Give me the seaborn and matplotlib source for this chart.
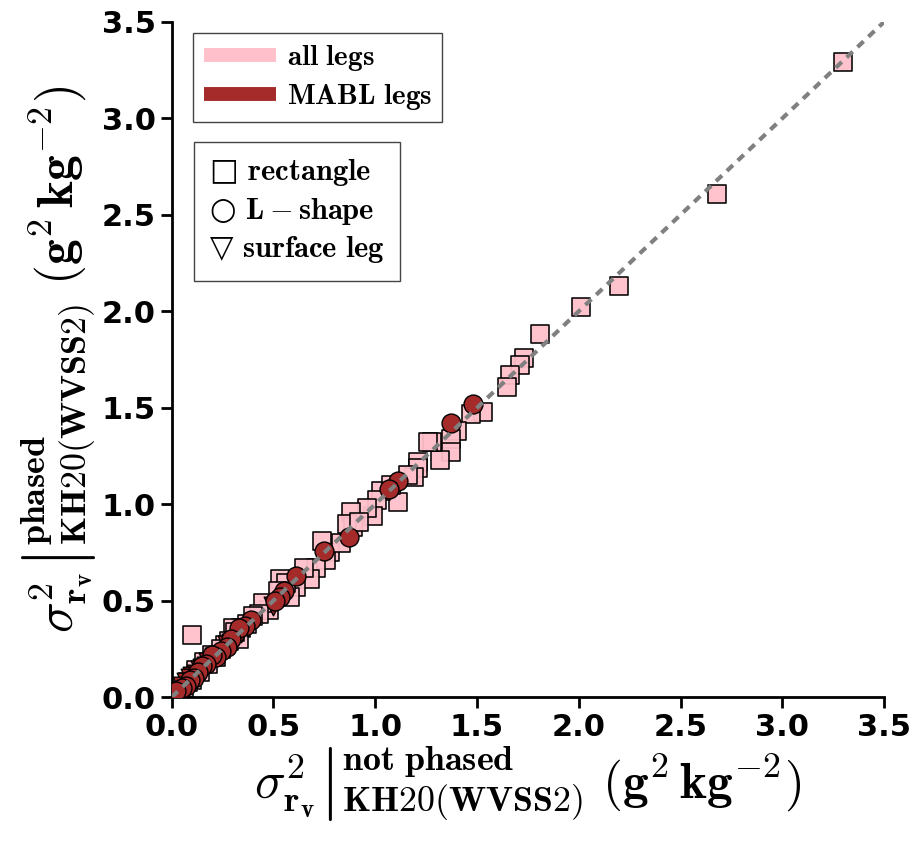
import matplotlib
matplotlib.use("Agg")
import matplotlib.pyplot as plt
import seaborn as sns
import pandas as pd
from matplotlib.lines import Line2D

# all legs, rectangle pattern (pink squares)
rect_x = [3.30, 2.68, 2.20, 2.01, 1.81, 1.73, 1.71, 1.66, 1.65, 1.53, 1.47, 1.40, 1.37, 1.37,
          1.32, 1.28, 1.26, 1.21, 1.21, 1.19, 1.16, 1.11, 1.03, 1.01, 0.99, 0.96, 0.88, 0.89,
          0.86, 0.78, 0.76, 0.74, 0.71, 0.68, 0.65, 0.61, 0.58, 0.53, 0.48, 0.45, 0.43, 0.40,
          0.37, 0.34, 0.30, 0.28, 0.26, 0.24, 0.22, 0.20, 0.18, 0.16, 0.14, 0.12, 0.10, 0.10,
          0.08, 0.06, 0.04, 0.03, 0.33, 0.31, 0.56, 0.52, 0.83, 0.92, 1.08]
rect_y = [3.29, 2.61, 2.13, 2.02, 1.88, 1.76, 1.72, 1.67, 1.61, 1.48, 1.47, 1.38, 1.34, 1.27,
          1.23, 1.32, 1.32, 1.22, 1.19, 1.14, 1.15, 1.01, 1.07, 1.02, 0.94, 0.98, 0.96, 0.88,
          0.90, 0.75, 0.71, 0.81, 0.67, 0.61, 0.67, 0.57, 0.52, 0.61, 0.45, 0.49, 0.43, 0.42,
          0.38, 0.36, 0.36, 0.29, 0.27, 0.25, 0.21, 0.22, 0.17, 0.18, 0.13, 0.14, 0.32, 0.09,
          0.08, 0.05, 0.05, 0.02, 0.30, 0.34, 0.59, 0.55, 0.80, 0.91, 1.10]

# MABL legs, L-shape pattern (brown circles)
lshape_x = [1.48, 1.37, 1.11, 1.07, 0.87, 0.75, 0.61, 0.55, 0.53, 0.51, 0.39, 0.36, 0.33,
            0.29, 0.27, 0.24, 0.22, 0.20, 0.17, 0.15, 0.13, 0.11, 0.09, 0.07, 0.05, 0.02]
lshape_y = [1.52, 1.42, 1.12, 1.08, 0.83, 0.76, 0.63, 0.55, 0.52, 0.50, 0.40, 0.37, 0.36,
            0.30, 0.26, 0.24, 0.21, 0.22, 0.17, 0.16, 0.13, 0.10, 0.09, 0.06, 0.05, 0.03]

# MABL legs, surface legs (brown triangles)
surf_x = [0.50, 0.34, 0.29, 0.27, 0.24, 0.21, 0.20, 0.18, 0.17, 0.15, 0.14, 0.12, 0.11,
          0.10, 0.09, 0.07, 0.06, 0.05, 0.04, 0.03, 0.02]
surf_y = [0.47, 0.33, 0.28, 0.27, 0.22, 0.21, 0.19, 0.18, 0.16, 0.15, 0.14, 0.12, 0.10,
          0.11, 0.10, 0.08, 0.05, 0.06, 0.03, 0.02, 0.01]

PINK = "#ffc0cb"
BROWN = "#a52a2a"

sns.set_style("ticks")
plt.rcParams["mathtext.fontset"] = "cm"
plt.rcParams["font.family"] = ["DejaVu Sans"]
plt.rcParams["text.color"] = "black"
plt.rcParams["axes.labelcolor"] = "black"

fig = plt.figure(figsize=(9.18, 8.43), dpi=100)
ax = fig.add_axes([0.187, 0.173, 0.776, 0.801])

df_rect = pd.DataFrame({"x": rect_x, "y": rect_y})
df_l = pd.DataFrame({"x": lshape_x, "y": lshape_y})
df_s = pd.DataFrame({"x": surf_x, "y": surf_y})

sns.scatterplot(data=df_rect, x="x", y="y", ax=ax, marker="s", s=165, color=PINK,
                edgecolor="black", linewidth=1.2, alpha=0.95, zorder=2, legend=False)
sns.scatterplot(data=df_s, x="x", y="y", ax=ax, marker="v", s=180, color=BROWN,
                edgecolor="black", linewidth=1.0, zorder=3, legend=False)
sns.scatterplot(data=df_l, x="x", y="y", ax=ax, marker="o", s=185, color=BROWN,
                edgecolor="black", linewidth=1.0, zorder=4, legend=False)

ax.plot([0, 3.5], [0, 3.5], ls=(0, (2, 1.6)), color="grey", lw=3, zorder=5)

ax.set_xlim(0, 3.5)
ax.set_ylim(0, 3.5)
ax.set_xticks([0, 0.5, 1, 1.5, 2, 2.5, 3, 3.5])
ax.set_yticks([0, 0.5, 1, 1.5, 2, 2.5, 3, 3.5])
ax.tick_params(labelsize=22, width=2, length=8, direction="out",
               color="black", labelcolor="black")
for lab in ax.get_xticklabels() + ax.get_yticklabels():
    lab.set_fontweight("bold")
for sp in ["left", "bottom"]:
    ax.spines[sp].set_linewidth(2)
    ax.spines[sp].set_color("black")
sns.despine(ax=ax)

ax.set_xlabel(r"$\sigma^2_{\mathbf{r_v}}\left|^{\mathbf{not\ phased}}_{\mathbf{KH20(WVSS2)}}\right.\ (\mathbf{g^2\,kg^{-2}})$",
              fontsize=37, labelpad=2)
ax.set_ylabel(r"$\sigma^2_{\mathbf{r_v}}\left|^{\mathbf{phased}}_{\mathbf{KH20(WVSS2)}}\right.\ (\mathbf{g^2\,kg^{-2}})$",
              fontsize=37, labelpad=2)

h1 = [Line2D([], [], color=PINK, lw=10, solid_capstyle="butt"),
      Line2D([], [], color=BROWN, lw=10, solid_capstyle="butt")]
leg1 = ax.legend(h1, [r"$\mathbf{all\ legs}$", r"$\mathbf{MABL\ legs}$"],
                 loc="upper left", bbox_to_anchor=(0.01, 1.005), fontsize=21,
                 fancybox=False, edgecolor="#444444", handlelength=2.5, framealpha=1,
                 borderpad=0.35, labelspacing=0.3, handletextpad=0.35)
ax.add_artist(leg1)

h2 = [Line2D([], [], ls="none") for _ in range(3)]
ax.legend(h2, ["\u25a1 " + r"$\mathbf{rectangle}$", "\u25cb " + r"$\mathbf{L-shape}$",
               "\u25bd " + r"$\mathbf{surface\ leg}$"],
          loc="upper left", bbox_to_anchor=(0.01, 0.845), fontsize=22,
          fancybox=False, edgecolor="#444444", handlelength=0, handletextpad=0, framealpha=1,
          borderpad=0.5, labelspacing=0.25)

plt.savefig("out.png", dpi=100)
